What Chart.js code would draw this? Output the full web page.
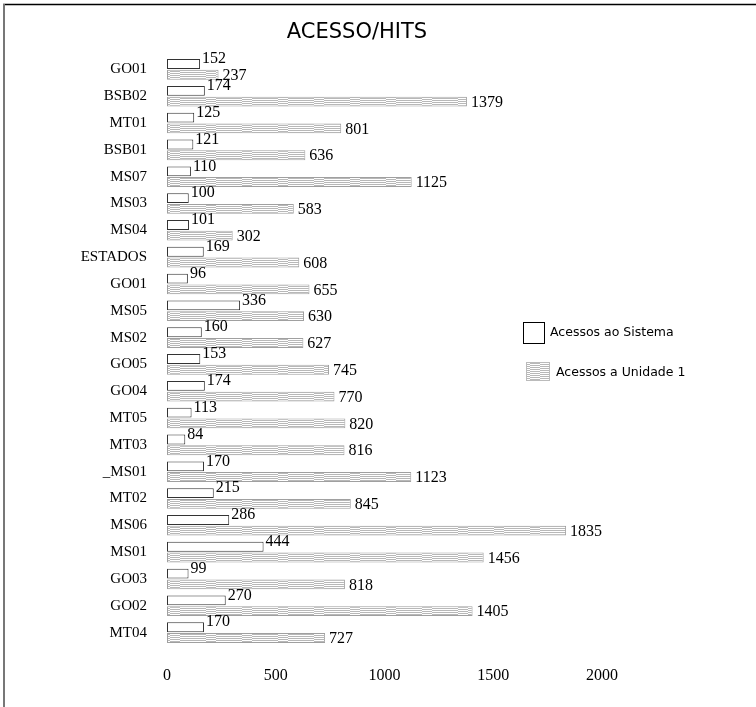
<!DOCTYPE html>
<html>
<head>
<meta charset="utf-8">
<script src="https://cdn.jsdelivr.net/npm/chart.js@4/dist/chart.umd.min.js"></script>
<style>
  html, body { margin: 0; padding: 0; background: #fff; }
  #wrap { width: 756px; height: 707px; position: relative; }
</style>
</head>
<body>
<div id="wrap"><canvas id="c" width="756" height="707"></canvas></div>
<script>
// Units, top to bottom
const categories = ['GO01', 'BSB02', 'MT01', 'BSB01', 'MS07', 'MS03', 'MS04', 'ESTADOS', 'GO01', 'MS05', 'MS02',
  'GO05', 'GO04', 'MT05', 'MT03', '_MS01', 'MT02', 'MS06', 'MS01', 'GO03', 'GO02', 'MT04'];
// Accesses to the system
const acessosSistema = [152, 174, 125, 121, 110, 100, 101, 169, 96, 336, 160,
  153, 174, 113, 84, 170, 215, 286, 444, 99, 270, 170];
// Accesses to unit 1
const acessosUnidade = [237, 1379, 801, 636, 1125, 583, 302, 608, 655, 630, 627,
  745, 770, 820, 816, 1123, 845, 1835, 1456, 818, 1405, 727];
const xTicks = [0, 500, 1000, 1500, 2000];
const seriesNames = ['Acessos ao Sistema', 'Acessos a Unidade 1'];
const chartTitle = 'ACESSO/HITS';

const SERIF = '"Liberation Serif", "DejaVu Serif", serif';
const SANS = '"DejaVu Sans", "Noto Sans", sans-serif';

// Horizontal hatch fill with a small phase shift every few pixels
function makeHatch() {
  const p = document.createElement('canvas');
  p.width = 36; p.height = 4;
  const g = p.getContext('2d');
  g.fillStyle = '#ffffff';
  g.fillRect(0, 0, 36, 4);
  g.fillStyle = '#b8b8b8';
  g.fillRect(0, 0, 26, 1);
  g.fillRect(0, 2, 26, 1);
  g.fillRect(26, 1, 10, 1);
  g.fillRect(26, 3, 10, 1);
  return document.getElementById('c').getContext('2d').createPattern(p, 'repeat');
}
const hatch = makeHatch();

const decorations = {
  id: 'decorations',
  beforeDraw(chart) {
    const ctx = chart.ctx;
    ctx.save();
    ctx.fillStyle = '#fff';
    ctx.fillRect(0, 0, chart.width, chart.height);
    // frame: top and left edges
    ctx.strokeStyle = '#000';
    ctx.lineWidth = 1.5;
    ctx.beginPath(); ctx.moveTo(3, 4.5); ctx.lineTo(chart.width, 4.5); ctx.stroke();
    ctx.strokeStyle = '#777';
    ctx.lineWidth = 2;
    ctx.beginPath(); ctx.moveTo(4, 4); ctx.lineTo(4, chart.height); ctx.stroke();
    ctx.restore();
  },
  afterDraw(chart) {
    const ctx = chart.ctx;
    ctx.save();
    // title
    ctx.fillStyle = '#000';
    ctx.font = '21px ' + SANS;
    ctx.textAlign = 'center';
    ctx.textBaseline = 'middle';
    ctx.fillText(chartTitle, 357, 33);

    // value labels at bar ends
    ctx.font = '16px ' + SERIF;
    ctx.textAlign = 'left';
    chart.data.datasets.forEach((ds, di) => {
      const meta = chart.getDatasetMeta(di);
      meta.data.forEach((bar, i) => {
        const dx = di === 0 ? 2 : 4;
        const dy = di === 0 ? -5 : 1;
        ctx.fillText(String(ds.data[i]), bar.x + dx, bar.y + dy);
      });
    });

    // legend
    ctx.font = '12.5px ' + SANS;
    ctx.textBaseline = 'middle';
    ctx.fillStyle = '#fff';
    ctx.fillRect(523.5, 322.5, 21, 21);
    ctx.strokeStyle = '#000';
    ctx.lineWidth = 1;
    ctx.strokeRect(523.5, 322.5, 21, 21);
    ctx.fillStyle = '#000';
    ctx.fillText(seriesNames[0], 550, 333);
    ctx.fillStyle = hatch;
    ctx.fillRect(526, 362, 24, 19);
    ctx.strokeStyle = '#bbb';
    ctx.strokeRect(526.5, 362.5, 23, 18);
    ctx.fillStyle = '#000';
    ctx.fillText(seriesNames[1], 556, 373);
    ctx.restore();
  }
};

new Chart(document.getElementById('c'), {
  type: 'bar',
  data: {
    labels: categories,
    datasets: [
      {
        label: seriesNames[0],
        data: acessosSistema,
        backgroundColor: '#ffffff',
        borderColor: '#333333',
        borderWidth: 1,
        borderSkipped: false,
        categoryPercentage: 0.8,
        barPercentage: 0.92
      },
      {
        label: seriesNames[1],
        data: acessosUnidade,
        backgroundColor: hatch,
        borderColor: '#a0a0a0',
        borderWidth: 1,
        borderSkipped: false,
        categoryPercentage: 0.8,
        barPercentage: 0.92
      }
    ]
  },
  options: {
    indexAxis: 'y',
    responsive: false,
    animation: false,
    layout: { padding: { top: 56, right: 154, bottom: 21, left: 0 } },
    plugins: {
      legend: { display: false },
      title: { display: false },
      tooltip: { enabled: false }
    },
    scales: {
      x: {
        min: 0,
        max: 2000,
        afterBuildTicks(scale) { scale.ticks = xTicks.map(v => ({ value: v })); },
        afterFit(scale) { scale.height = 40; },
        grid: { display: false, drawTicks: false },
        border: { display: false },
        ticks: {
          color: '#000', padding: 20, font: { family: SERIF, size: 16 },
          callback: (v) => String(v)
        }
      },
      y: {
        afterFit(scale) { scale.width = 167; },
        grid: { display: false, drawTicks: false },
        border: { display: false },
        ticks: { color: '#000', padding: 20, autoSkip: false, font: { family: SERIF, size: 15 } }
      }
    }
  },
  plugins: [decorations]
});
</script>
</body>
</html>
